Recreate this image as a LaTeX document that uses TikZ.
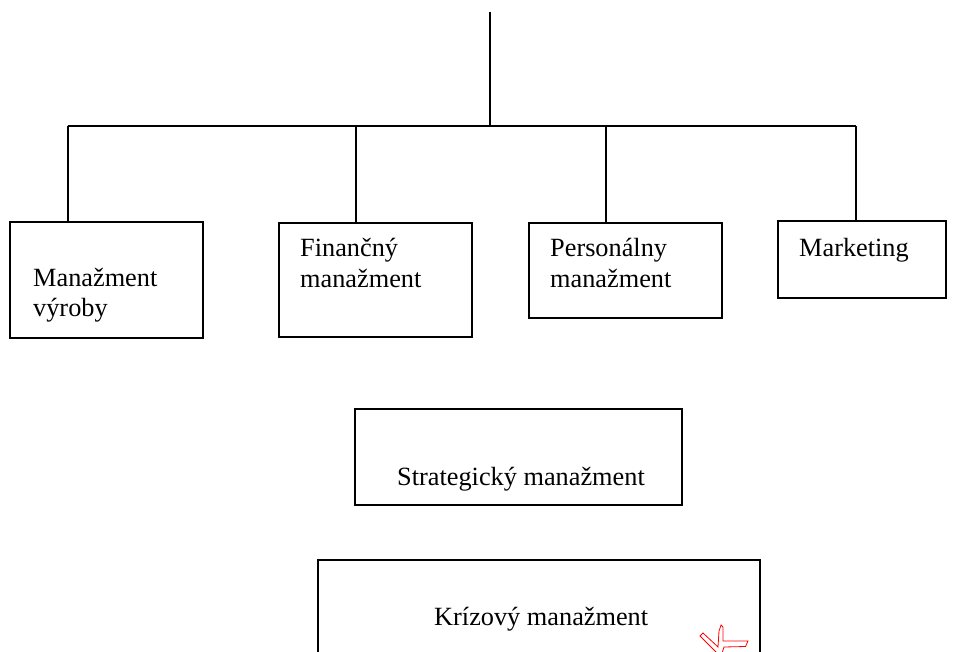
\documentclass[tikz,border=0pt]{standalone}
\usepackage{fontspec}
\setmainfont{Liberation Serif}
\begin{document}
\begin{tikzpicture}[x=1pt,y=-1pt,
  box/.style={draw=black,line width=1.6pt,rectangle,inner sep=0pt,outer sep=0pt},
  lbl/.style={anchor=base west,inner sep=0pt,font=\fontsize{26.3}{30}\selectfont},
  conn/.style={draw=black,line width=1.6pt}]
\useasboundingbox (0,0) rectangle (959,652);
\fill[white] (0,0) rectangle (959,652);
% boxes
\node[box,minimum width=193pt,minimum height=116pt] (b1) at (106.5,280) {};
\node[box,minimum width=193pt,minimum height=114pt] (b2) at (375.5,280) {};
\node[box,minimum width=193pt,minimum height=95pt] (b3) at (625.5,270.5) {};
\node[box,minimum width=168pt,minimum height=77pt] (b4) at (862,259.5) {};
\node[box,minimum width=327pt,minimum height=96pt] (b5) at (518.5,457) {};
\node[box,minimum width=442pt,minimum height=160pt] (b6) at (539,640) {};
% texts
\node[lbl] (t1a) at (33,287) {Manažment};
\node[lbl] (t1b) at (33,317) {výroby};
\node[lbl] (t2a) at (300,257) {Finančný};
\node[lbl] (t2b) at (300,288) {manažment};
\node[lbl] (t3a) at (550,257) {Personálny};
\node[lbl] (t3b) at (550,288) {manažment};
\node[lbl] (t4) at (799,257) {Marketing};
\node[lbl] (t5) at (397,485) {Strategický manažment};
\node[lbl] (t6) at (434,625) {Krízový manažment};
% connectors
\coordinate (top) at (490,12);
\coordinate (j) at (490,126);
\coordinate (hl) at (68,126);
\coordinate (h2) at (356,126);
\coordinate (h3) at (606,126);
\coordinate (hr) at (856,126);
\draw[conn] (top) -- (j);
\draw[conn] (hl) -- (hr);
\draw[conn] (hl) -- (hl |- b1.north);
\draw[conn] (h2) -- (h2 |- b2.north);
\draw[conn] (h3) -- (h3 |- b3.north);
\draw[conn] (hr) -- (hr |- b4.north);
% red mark
\draw[red,line width=0.8pt,line join=miter] (700,636) -- (703,633) -- (718,647) -- (719,631) -- (721,625) -- (723,627) -- (723,641) -- (748,641) -- (745.5,646.5) -- (724,647) -- (722,653) -- (717,653) -- cycle;
\end{tikzpicture}
\end{document}
